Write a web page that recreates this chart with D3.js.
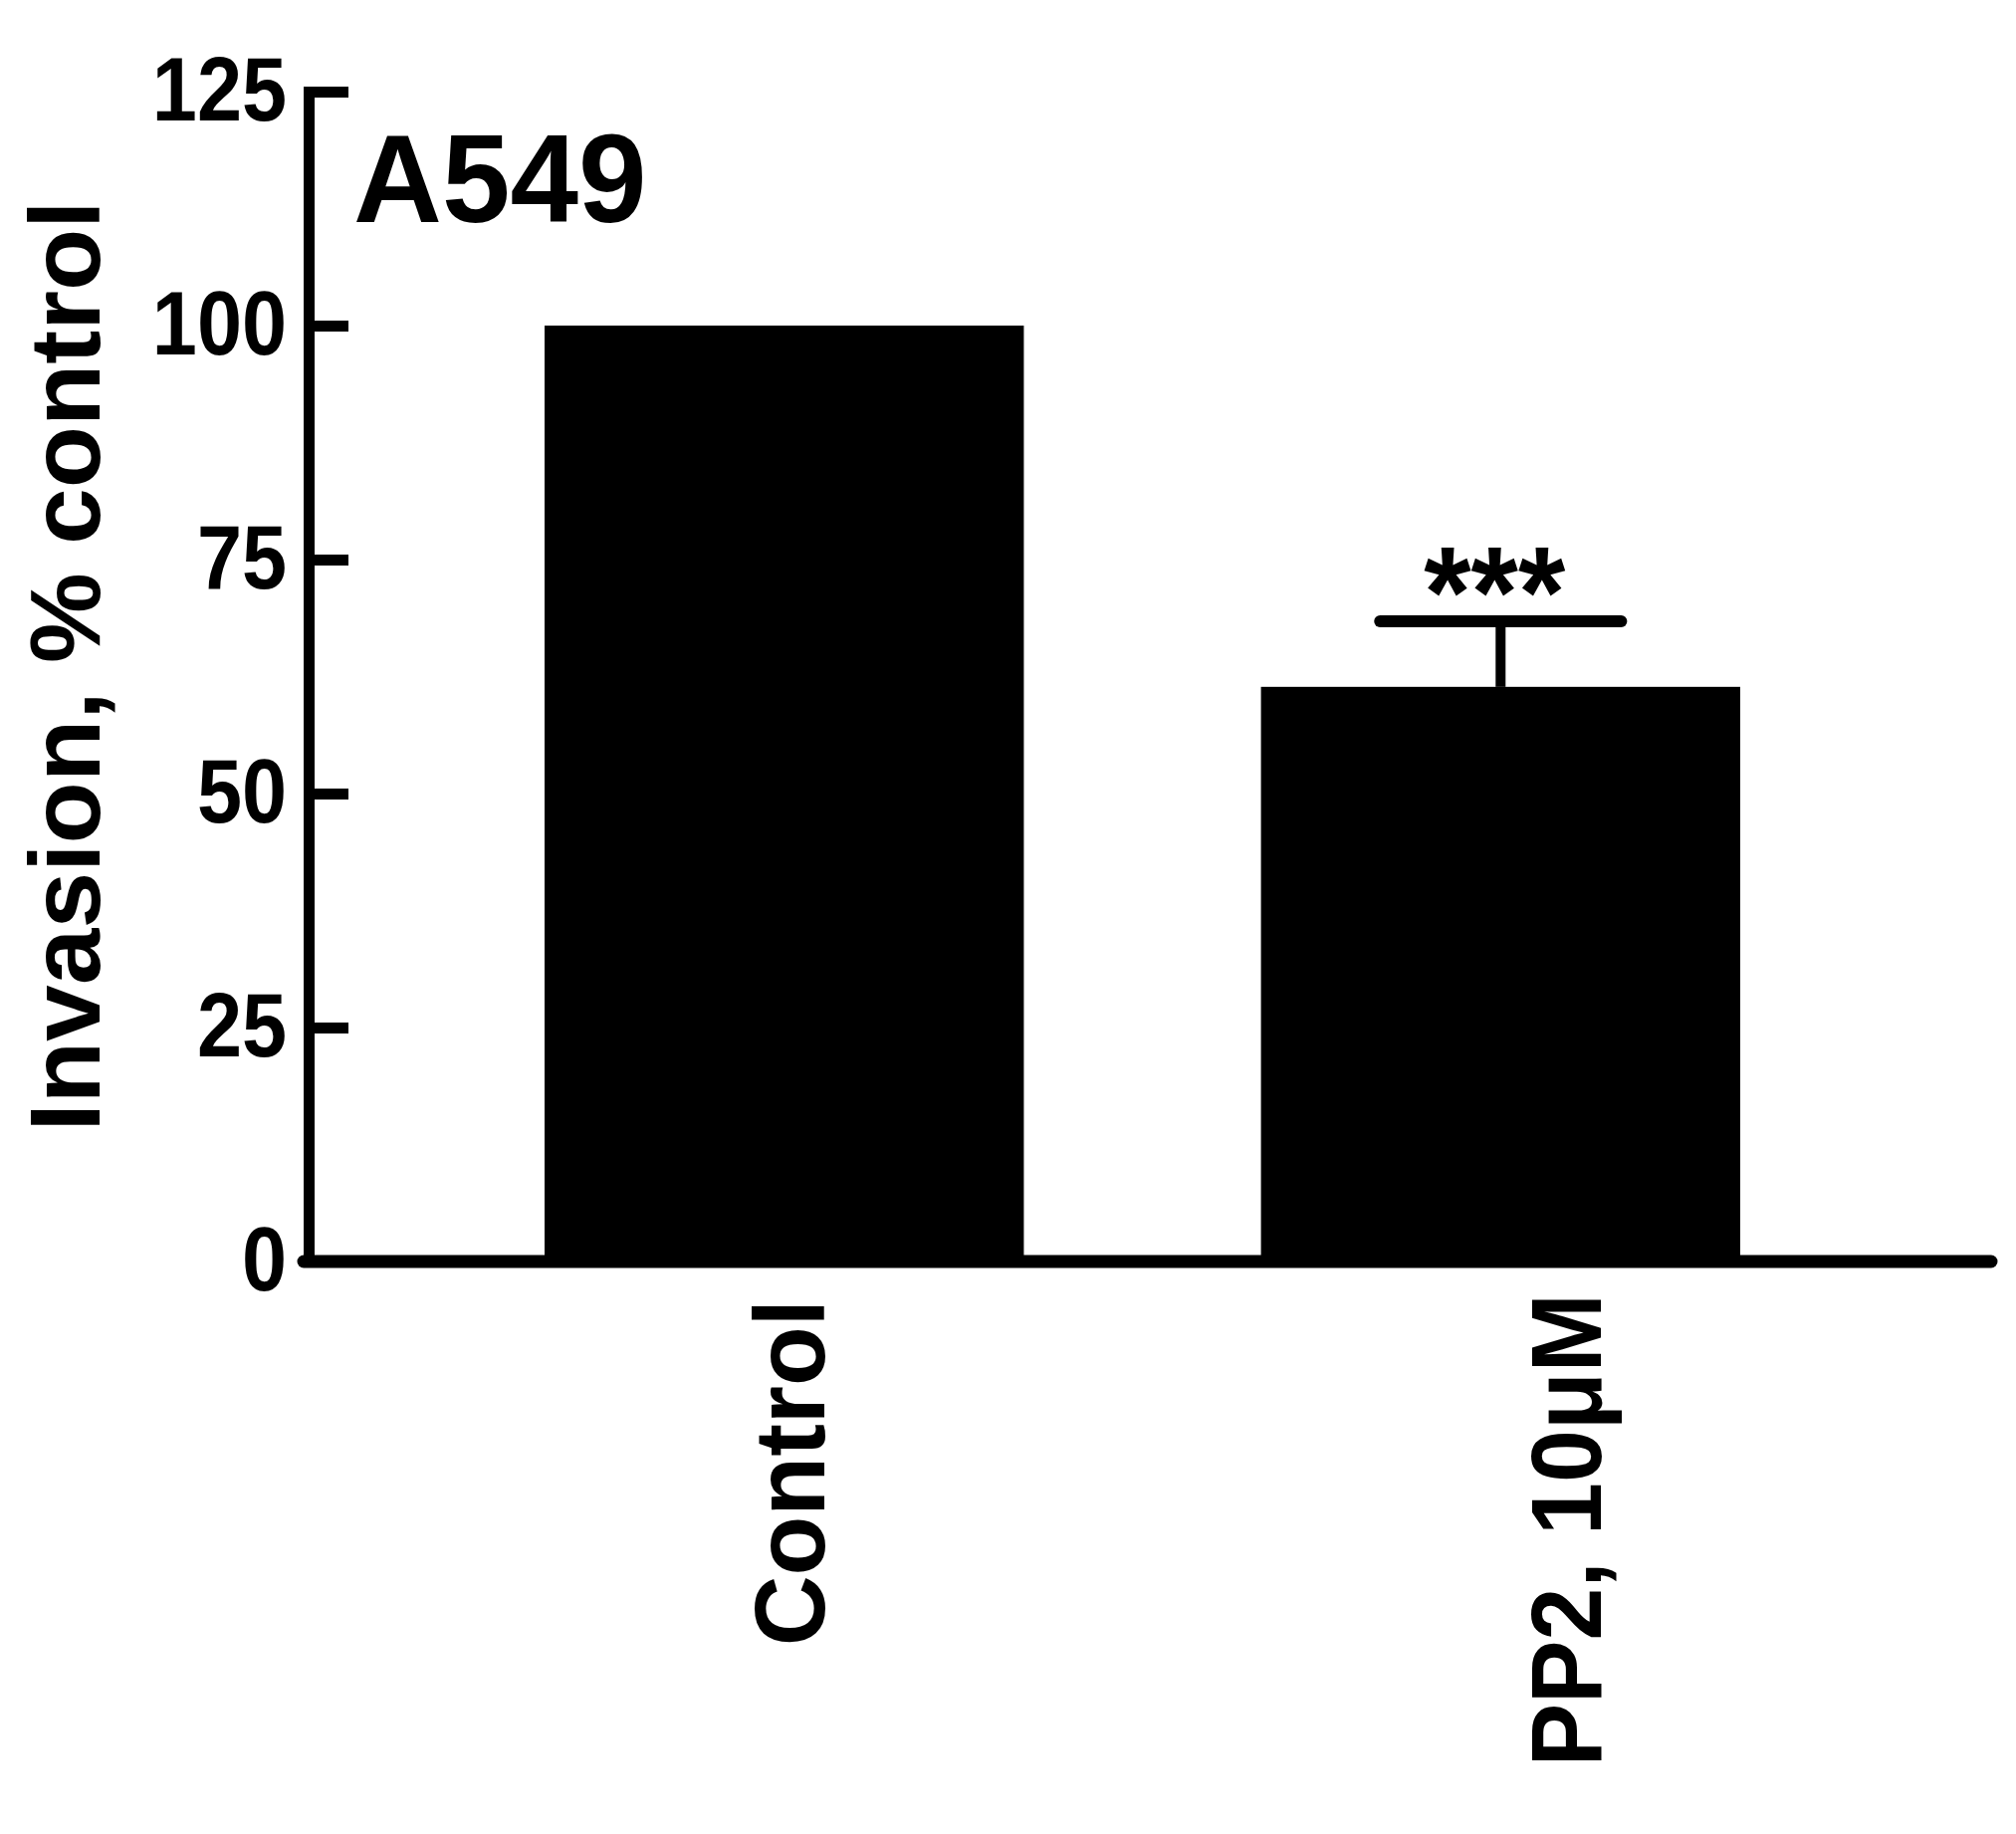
<!DOCTYPE html>
<html>
<head>
<meta charset="utf-8">
<script src="https://cdn.jsdelivr.net/npm/d3@7"></script>
<style>
  html, body { margin: 0; padding: 0; background: #ffffff; }
  svg { display: block; }
  text { font-family: "Liberation Sans", Arial, sans-serif; font-weight: bold; fill: #000; }
</style>
</head>
<body>
<script>
// ---- data ----
const categories = ["Control", "PP2, 10\u03bcM"];
const values = [100, 61.4];
const errors = [0, 7.0];
const significance = ["", "***"];
const yTicks = [0, 25, 50, 75, 100, 125];
const yTitle = "Invasion, % control";
const panelTitle = "A549";

// ---- layout ----
const W = 2025, H = 1842;
const axisX = 310;
const xEnd = 2000;
const yTop = 92, yBottom = 1267;
const barsLeft = 547, barsRight = 1748;
const labelBaselineShift = [40, 101];
const labelTopGap = [38, 32];
const labelSqueeze = [0.98, 0.95];

const svg = d3.select("body").append("svg").attr("width", W).attr("height", H);

const y = d3.scaleLinear().domain([0, 125]).range([yBottom, yTop]);
const x = d3.scaleBand().domain(categories).range([barsLeft, barsRight])
  .paddingInner(0.331).paddingOuter(0);

function condense(sel, ratio) {
  sel.each(function (d, i) {
    const r = typeof ratio === "function" ? ratio(d, i) : ratio;
    const w = this.getComputedTextLength();
    d3.select(this).attr("textLength", w * r).attr("lengthAdjust", "spacingAndGlyphs");
  });
}

// bars
svg.append("g").selectAll("rect").data(categories).join("rect")
  .attr("x", d => x(d))
  .attr("width", x.bandwidth())
  .attr("y", (d, i) => y(values[i]))
  .attr("height", (d, i) => y(0) - y(values[i]))
  .attr("fill", "#000");

// error bars
const eb = svg.append("g");
categories.forEach((c, i) => {
  if (!errors[i]) return;
  const cx = x(c) + x.bandwidth() / 2;
  const capW = x.bandwidth() * 0.503;
  eb.append("line").attr("x1", cx).attr("x2", cx)
    .attr("y1", y(values[i])).attr("y2", y(values[i] + errors[i]))
    .attr("stroke", "#000").attr("stroke-width", 10);
  eb.append("line").attr("x1", cx - capW / 2).attr("x2", cx + capW / 2)
    .attr("y1", y(values[i] + errors[i])).attr("y2", y(values[i] + errors[i]))
    .attr("stroke", "#000").attr("stroke-width", 12).attr("stroke-linecap", "round");
  if (significance[i]) {
    const t = eb.append("text").attr("x", cx - 6).attr("y", y(values[i] + errors[i]) + 16)
      .attr("text-anchor", "middle").style("font-size", "130px").text(significance[i]);
    t.attr("textLength", 142).attr("lengthAdjust", "spacingAndGlyphs");
  }
});

// y axis
const yAxis = d3.axisLeft(y).tickValues(yTicks).tickSize(-40).tickSizeOuter(0).tickPadding(22);
const gy = svg.append("g").attr("transform", `translate(${axisX},0)`).call(yAxis);
gy.select(".domain").attr("stroke", "#000").attr("stroke-width", 11).attr("stroke-linecap", "square");
gy.selectAll(".tick line").attr("stroke", "#000").attr("stroke-width", 11);
gy.selectAll(".tick text").style("font-size", "90px").style("font-family", "'Liberation Sans', Arial, sans-serif")
  .style("font-weight", "bold").attr("fill", "#000");
condense(gy.selectAll(".tick text"), 0.9);

// x axis baseline
svg.append("line").attr("x1", axisX - 5).attr("x2", xEnd)
  .attr("y1", y(0)).attr("y2", y(0))
  .attr("stroke", "#000").attr("stroke-width", 13).attr("stroke-linecap", "round");

// category labels (rotated)
svg.append("g").selectAll("text").data(categories).join("text")
  .attr("transform", (d, i) => `translate(${x(d) + x.bandwidth() / 2 + labelBaselineShift[i]},${y(0) + labelTopGap[i]}) rotate(-90)`)
  .attr("text-anchor", "end")
  .style("font-size", "100px")
  .text(d => d)
  .call(s => condense(s, (d, i) => labelSqueeze[i]));

// y title
svg.append("text")
  .attr("transform", `translate(100,669) rotate(-90)`)
  .attr("text-anchor", "middle")
  .style("font-size", "100px")
  .text(yTitle)
  .call(s => condense(s, 1.02));

// panel title
svg.append("text").attr("x", axisX + 45).attr("y", 223)
  .style("font-size", "127px").text(panelTitle)
  .call(s => condense(s, 0.97));
</script>
</body>
</html>
